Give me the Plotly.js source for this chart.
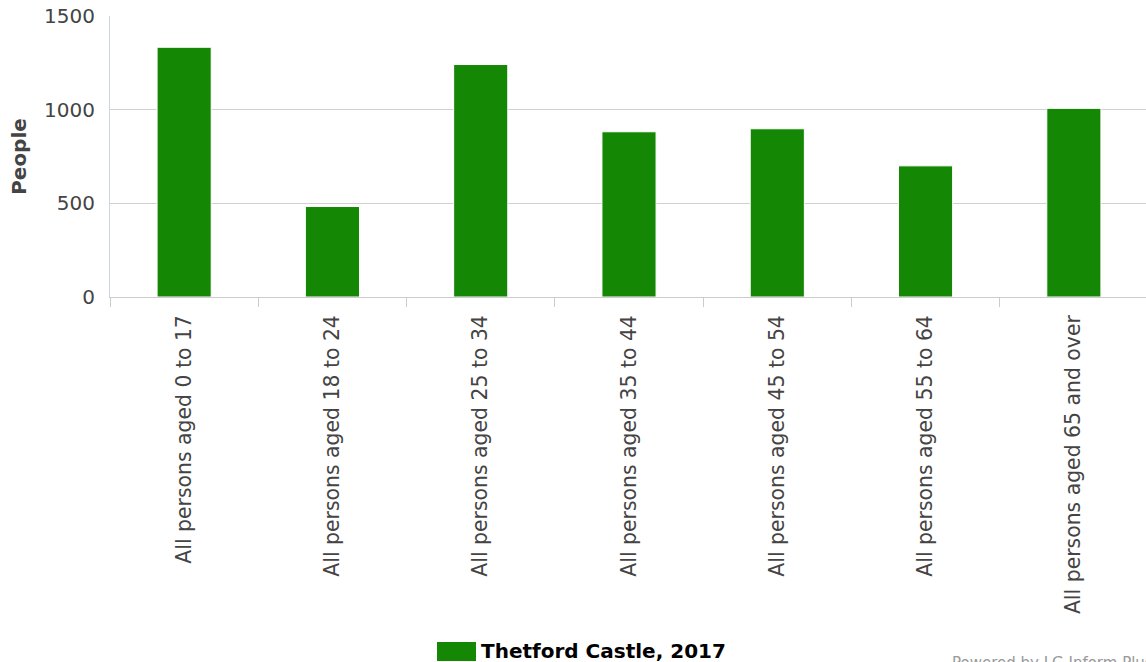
<!DOCTYPE html>
<html>
<head>
<meta charset="utf-8">
<script src="https://cdn.plot.ly/plotly-3.0.1.min.js"></script>
<style>
html,body{margin:0;padding:0;overflow:hidden;background:#fff;}
#chart{width:1148px;height:662px;}
</style>
</head>
<body>
<div id="chart"></div>
<script>
const categories = [
  "All persons aged 0 to 17",
  "All persons aged 18 to 24",
  "All persons aged 25 to 34",
  "All persons aged 35 to 44",
  "All persons aged 45 to 54",
  "All persons aged 55 to 64",
  "All persons aged 65 and over"
];
const values = [1333, 483, 1241, 882, 898, 700, 1007];
const seriesName = "Thetford Castle, 2017";
const yTickVals = [0, 500, 1000, 1500];
const barColor = "#148705";

const trace = {
  type: "bar",
  x: categories,
  y: values,
  name: seriesName,
  marker: {color: barColor, line: {color: "#ffffff", width: 1}},
  hoverinfo: "x+y"
};

// plot area: x 110..1148, y 16..297 (height 281)
const PH = 281, PB = 297, PL = 110, PW = 1038;
const px = v => (v - PL) / PW;
const py = v => (PB - v) / PH;

const layout = {
  width: 1148,
  height: 662,
  margin: {l: 110, r: 0, t: 16, b: 365},
  paper_bgcolor: "#ffffff",
  plot_bgcolor: "#ffffff",
  bargap: 0.635,
  showlegend: false,
  font: {family: "DejaVu Sans", color: "#444444"},
  xaxis: {
    type: "category",
    tickangle: -90,
    tickfont: {size: 20.4, color: "#444444", family: "DejaVu Sans"},
    ticks: "outside",
    tickson: "boundaries",
    ticklen: 9,
    tickcolor: "#cccccc",
    ticklabelstandoff: 9,
    showline: true,
    linecolor: "#cccccc",
    linewidth: 1,
    showgrid: false,
    automargin: false
  },
  yaxis: {
    range: [0, 1500],
    tickvals: yTickVals,
    ticktext: yTickVals.map(String),
    tickfont: {size: 20, color: "#444444", family: "DejaVu Sans"},
    showgrid: true,
    gridcolor: "#d0d0d0",
    gridwidth: 1,
    zeroline: false,
    showline: true,
    linecolor: "#ccd6eb",
    linewidth: 1,
    ticks: "outside",
    ticklen: 10,
    tickcolor: "rgba(0,0,0,0)",
    title: {text: "<b>People</b>", font: {size: 20, color: "#444444", family: "DejaVu Sans"}, standoff: 12},
    automargin: false
  },
  shapes: [
    {type: "rect", xref: "paper", yref: "paper",
     x0: px(437), x1: px(476),
     y0: py(661), y1: py(642),
     fillcolor: barColor, line: {width: 0}}
  ],
  annotations: [
    {xref: "paper", yref: "paper",
     x: px(479), y: py(651),
     xanchor: "left", yanchor: "middle",
     text: "<b>" + seriesName + "</b>", showarrow: false,
     font: {size: 20, color: "#000000", family: "DejaVu Sans"}},
    {xref: "paper", yref: "paper",
     x: px(950), y: py(652),
     xanchor: "left", yanchor: "top",
     text: "Powered by LG Inform Plus", showarrow: false,
     font: {size: 15, color: "#999999", family: "DejaVu Sans"}}
  ]
};

Plotly.newPlot("chart", [trace], layout, {displayModeBar: false, staticPlot: true});
</script>
</body>
</html>
